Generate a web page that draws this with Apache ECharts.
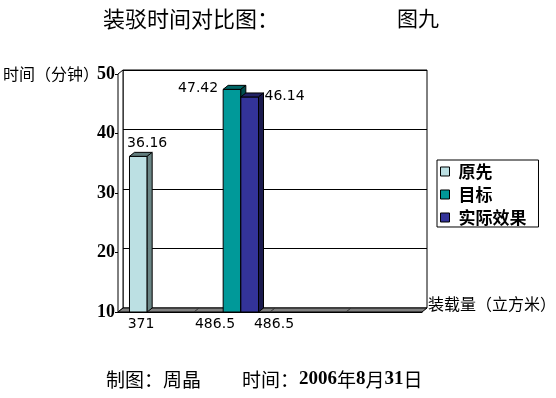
<!DOCTYPE html>
<html>
<head>
<meta charset="utf-8">
<script src="https://cdn.jsdelivr.net/npm/echarts@6/dist/echarts.min.js"></script>
<style>
  html, body { margin: 0; padding: 0; background: #fff; }
  #chart { width: 556px; height: 398px; }
</style>
</head>
<body>
<div id="chart"></div>
<script>
  // 数据
  var categories = ['371', '486.5', '486.5', '']
  var seriesNames = ['原先', '目标', '实际效果']
  var yuanxian = [36.16, null, null, null]
  var mubiao = [null, 47.42, null, null]
  var shiji = [null, 46.14, null, null]
  var yMin = 10
  var yMax = 50
  var yStep = 10

  // 立体效果偏移
  var DX = 5
  var DY = -4
  var labelFont = '14px "DejaVu Sans"'

  function toPairs(arr) {
    var out = []
    for (var i = 0; i < arr.length; i++) {
      if (arr[i] != null) out.push([i, arr[i]])
    }
    return out
  }

  function barRender(slot, face, top, side, labelAt) {
    return function (params, api) {
      var c = api.coord([api.value(0), api.value(1)])
      var base = api.coord([api.value(0), yMin])
      var band = api.size([1, 0])[0]
      var w = band / 4.3
      var x = c[0] - band / 2 + w * 0.65 + slot * w
      var yt = c[1]
      var yb = base[1]
      var txt = api.value(1).toFixed(2)
      var label
      if (labelAt === 'top') {
        label = {type: 'text', style: {x: x + w, y: yt + DY - 2, text: txt, font: labelFont, fill: '#000', textAlign: 'center', textVerticalAlign: 'bottom'}}
      } else if (labelAt === 'left') {
        label = {type: 'text', style: {x: x - 5, y: yt - 1, text: txt, font: labelFont, fill: '#000', textAlign: 'right', textVerticalAlign: 'middle'}}
      } else {
        label = {type: 'text', style: {x: x + w + DX + 1, y: yt - 1, text: txt, font: labelFont, fill: '#000', textAlign: 'left', textVerticalAlign: 'middle'}}
      }
      return {
        type: 'group',
        children: [
          {type: 'rect', shape: {x: x, y: yt, width: w, height: yb - yt}, style: {fill: face, stroke: '#000', lineWidth: 1}},
          {type: 'polygon', shape: {points: [[x, yt], [x + w, yt], [x + w + DX, yt + DY], [x + DX, yt + DY]]}, style: {fill: top, stroke: '#000', lineWidth: 1}},
          {type: 'polygon', shape: {points: [[x + w, yt], [x + w + DX, yt + DY], [x + w + DX, yb + DY], [x + w, yb]]}, style: {fill: side, stroke: '#000', lineWidth: 1}},
          label
        ]
      }
    }
  }

  // 地板和左侧墙
  function floorRender(params, api) {
    var band = api.size([1, 0])[0]
    var p0 = api.coord([0, yMin])
    var pT = api.coord([0, yMax])
    var x0 = p0[0] - band / 2
    var x1 = api.coord([categories.length - 1, yMin])[0] + band / 2
    var y0 = p0[1]
    var yT = pT[1]
    var children = [
      {type: 'polygon', shape: {points: [[x0, y0], [x0 + DX, y0 + DY], [x0 + DX, yT + DY], [x0, yT]]}, style: {fill: '#fff', stroke: '#000', lineWidth: 1}},
      {type: 'polygon', shape: {points: [[x0, y0], [x1, y0], [x1 + DX, y0 + DY], [x0 + DX, y0 + DY]]}, style: {fill: '#808080', stroke: '#000', lineWidth: 1}}
    ]
    for (var i = 1; i < categories.length; i++) {
      var xb = x0 + band * i
      children.push({type: 'line', shape: {x1: xb, y1: y0, x2: xb + DX, y2: y0 + DY}, style: {stroke: '#333', lineWidth: 1}})
    }
    return {type: 'group', children: children}
  }

  var cjk = 'Noto Sans CJK SC'
  var footFont = '"Liberation Serif", "Noto Sans CJK SC"'

  var myChart = echarts.init(document.getElementById('chart'))
  var option = {
    backgroundColor: '#fff',
    animation: false,
    title: [
      {text: '装驳时间对比图：', left: 103, top: 8, padding: 0, textStyle: {fontSize: 22, fontWeight: 'normal', color: '#000', fontFamily: cjk}},
      {text: '图九', left: 397, top: 8, padding: 0, textStyle: {fontSize: 21, fontWeight: 'normal', color: '#000', fontFamily: cjk}},
      {text: '时间（分钟）', left: 3, top: 66, padding: 0, textStyle: {fontSize: 16, fontWeight: 'normal', color: '#000', fontFamily: cjk}},
      {text: '装载量（立方米）', left: 428, top: 296, padding: 0, textStyle: {fontSize: 16, fontWeight: 'normal', color: '#000', fontFamily: cjk}},
      {text: '制图：周晶', left: 106, top: 370, padding: 0, textStyle: {fontSize: 19, fontWeight: 'normal', color: '#000', fontFamily: cjk}},
      {
        text: '时间：{b|2006}年{b|8}月{b|31}日', left: 242, top: 370, padding: 0,
        textStyle: {
          fontSize: 19, fontWeight: 'normal', color: '#000', fontFamily: cjk,
          rich: {b: {fontSize: 19, fontWeight: 'bold', color: '#000', fontFamily: footFont}}
        }
      }
    ],
    legend: {
      data: seriesNames,
      orient: 'vertical',
      left: 437,
      top: 160,
      padding: [3, 12, 1, 3],
      borderColor: '#000',
      borderWidth: 1,
      icon: 'rect',
      itemWidth: 9,
      itemHeight: 9,
      itemGap: 6,
      itemStyle: {borderColor: '#000', borderWidth: 1},
      textStyle: {fontSize: 17, fontWeight: 'bold', color: '#000', lineHeight: 16, fontFamily: cjk, padding: [0, 0, 0, 4]}
    },
    grid: [
      // 后墙
      {left: 123, right: 129, top: 70, bottom: 90, show: true, borderColor: '#000', borderWidth: 1, backgroundColor: '#fff'},
      // 前面
      {left: 118, right: 134, top: 74, bottom: 86}
    ],
    xAxis: [
      {gridIndex: 0, type: 'category', data: categories, axisLine: {show: false}, axisTick: {show: false}, axisLabel: {show: false}},
      {
        gridIndex: 1,
        type: 'category',
        data: categories,
        axisLine: {show: true, lineStyle: {color: '#000', width: 1}},
        axisTick: {show: false},
        axisLabel: {
          interval: 0,
          margin: 5,
          color: '#000',
          fontSize: 14,
          fontFamily: 'DejaVu Sans',
          formatter: function (value, index) {
            return '{s' + index + '|' + value + '}'
          },
          rich: {
            s0: {padding: [0, 30, 0, 0], fontSize: 14, fontFamily: 'DejaVu Sans', color: '#000'},
            s1: {padding: [0, 34, 0, 0], fontSize: 14, fontFamily: 'DejaVu Sans', color: '#000'},
            s2: {padding: [0, 68, 0, 0], fontSize: 14, fontFamily: 'DejaVu Sans', color: '#000'},
            s3: {fontSize: 14}
          }
        }
      }
    ],
    yAxis: [
      {
        gridIndex: 0, type: 'value', min: yMin, max: yMax, interval: yStep,
        axisLine: {show: false}, axisTick: {show: false}, axisLabel: {show: false},
        splitLine: {show: true, lineStyle: {color: '#000', width: 1}}
      },
      {
        gridIndex: 1, type: 'value', min: yMin, max: yMax, interval: yStep,
        axisLine: {show: true, lineStyle: {color: '#000', width: 1}},
        axisTick: {show: true, length: 3, lineStyle: {color: '#000'}},
        axisLabel: {margin: 3, color: '#000', fontSize: 18, fontWeight: 'bold', fontFamily: 'Liberation Serif'},
        splitLine: {show: false}
      }
    ],
    series: [
      {name: 'floor', type: 'custom', xAxisIndex: 1, yAxisIndex: 1, z: 1, silent: true, renderItem: floorRender, data: [[0, yMin]]},
      {name: seriesNames[0], type: 'custom', xAxisIndex: 1, yAxisIndex: 1, z: 3, itemStyle: {color: '#BCE0E3'},
        renderItem: barRender(0, '#BCE0E3', '#607C7C', '#6B8686', 'top'), data: toPairs(yuanxian)},
      {name: seriesNames[1], type: 'custom', xAxisIndex: 1, yAxisIndex: 1, z: 3, itemStyle: {color: '#009999'},
        renderItem: barRender(1, '#009999', '#006666', '#004D4D', 'left'), data: toPairs(mubiao)},
      {name: seriesNames[2], type: 'custom', xAxisIndex: 1, yAxisIndex: 1, z: 3, itemStyle: {color: '#333399'},
        renderItem: barRender(2, '#333399', '#222266', '#1A1A4D', 'right'), data: toPairs(shiji)}
    ]
  }
  myChart.setOption(option)
</script>
</body>
</html>
